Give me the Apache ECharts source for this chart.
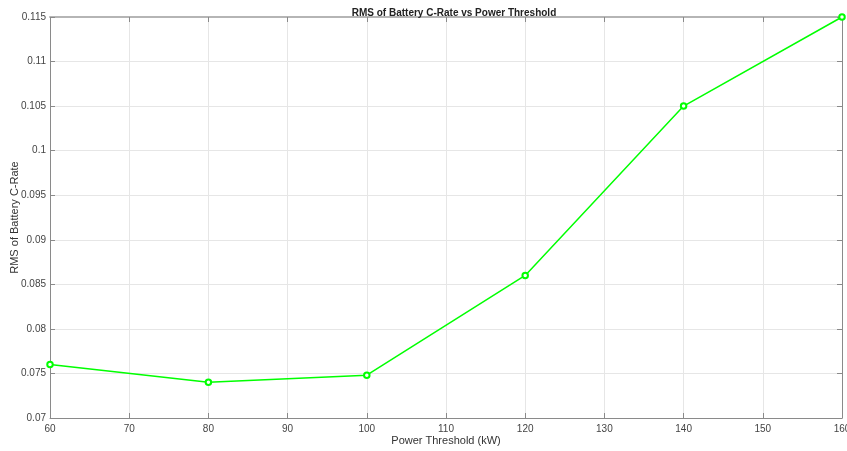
<!DOCTYPE html>
<html><head><meta charset="utf-8">
<script src="https://cdn.jsdelivr.net/npm/echarts@6/dist/echarts.min.js"></script>
<style>html,body{margin:0;padding:0;background:#fff}#c{width:847px;height:451px}</style>
</head><body><div id="c"></div>
<script>
const thresholds = [60, 80, 100, 120, 140, 160];
const rmsCRate = [0.0760, 0.0740, 0.0748, 0.0860, 0.1050, 0.1150];
const titleText = 'RMS of Battery C-Rate vs Power Threshold';
const xName = 'Power Threshold (kW)';
const yName = 'RMS of Battery C-Rate';

const axisColor = '#8a8a8a';
const labelColor = '#444';
const font = 'Liberation Sans, Arial, sans-serif';
const chart = echarts.init(document.getElementById('c'));
const data = thresholds.map((t, i) => [t, rmsCRate[i]]);
chart.setOption({
  animation: false,
  title: { text: titleText, left: 449, textAlign: 'center', top: 3, textStyle: { fontSize: 10, fontWeight: 'bold', color: '#222', fontFamily: font } },
  grid: { left: 50, right: 5, top: 17, bottom: 33, containLabel: false, outerBoundsMode: 'none' },
  xAxis: [{
    type: 'value', min: 60, max: 160, interval: 10,
    name: xName, nameLocation: 'middle', nameGap: 17, nameMoveOverlap: false,
    nameTextStyle: { fontSize: 11, color: '#333', fontFamily: font },
    axisLine: { show: true, lineStyle: { color: axisColor, width: 1 } },
    axisTick: { show: true, inside: true, length: 5, lineStyle: { color: axisColor } },
    axisLabel: { fontSize: 10, color: labelColor, margin: 6, fontFamily: font },
    splitLine: { show: true, lineStyle: { color: '#e6e6e6', width: 1 } }
  }, {
    type: 'value', min: 60, max: 160, interval: 10, position: 'top',
    axisLine: { show: true, lineStyle: { color: '#b5b5b5', width: 2 } },
    axisTick: { show: true, inside: true, length: 5, lineStyle: { color: axisColor } },
    axisLabel: { show: false }, splitLine: { show: false }
  }],
  yAxis: [{
    type: 'value', min: 0.07, max: 0.115, interval: 0.005,
    name: yName, nameLocation: 'middle', nameGap: 30, nameRotate: 90, nameMoveOverlap: false,
    nameTextStyle: { fontSize: 11, color: '#333', fontFamily: font },
    axisLine: { show: true, lineStyle: { color: axisColor, width: 1 } },
    axisTick: { show: true, inside: true, length: 5, lineStyle: { color: axisColor } },
    axisLabel: { fontSize: 10, color: labelColor, margin: 4, fontFamily: font,
      formatter: v => String(parseFloat(v.toFixed(3))) },
    splitLine: { show: true, lineStyle: { color: '#e6e6e6', width: 1 } }
  }, {
    type: 'value', min: 0.07, max: 0.115, interval: 0.005, position: 'right',
    axisLine: { show: true, lineStyle: { color: axisColor, width: 1 } },
    axisTick: { show: true, inside: true, length: 5, lineStyle: { color: axisColor } },
    axisLabel: { show: false }, splitLine: { show: false }
  }],
  series: [{
    type: 'line', data: data,
    symbol: 'emptyCircle', symbolSize: 5.5,
    lineStyle: { color: '#00ff00', width: 1.5 },
    itemStyle: { color: '#00ff00', borderColor: '#00ff00', borderWidth: 1.2 },
    clip: false
  }]
});
</script></body></html>
